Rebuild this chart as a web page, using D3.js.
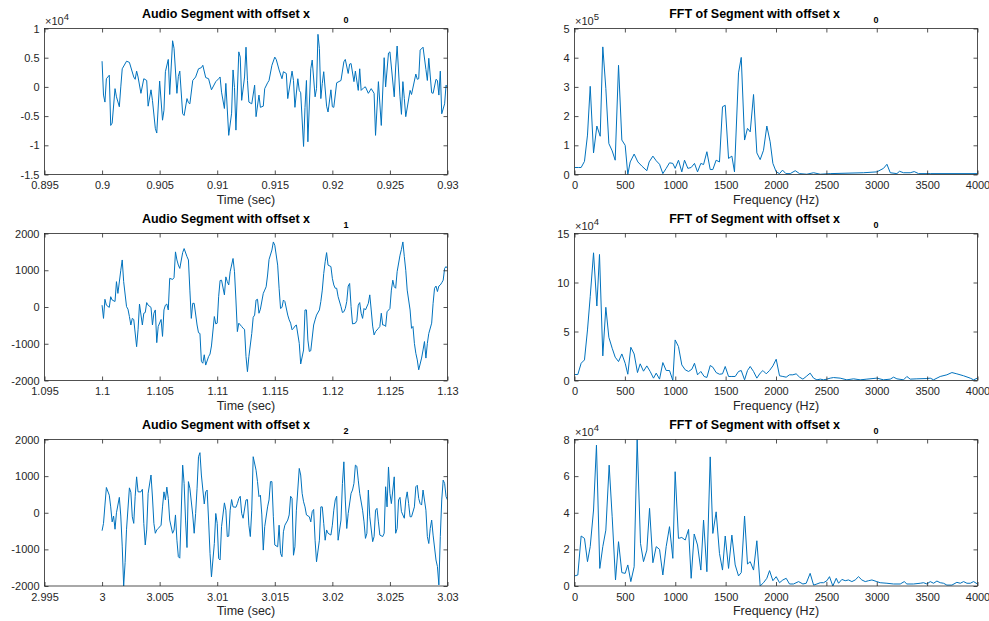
<!DOCTYPE html>
<html>
<head>
<meta charset="utf-8">
<script src="https://cdn.jsdelivr.net/npm/d3@7/dist/d3.min.js"></script>
<style>
  body { margin: 0; background: #fff; }
  svg { display: block; font-family: "Liberation Sans", Arial, Helvetica, sans-serif; }
</style>
</head>
<body>
<svg width="989" height="621"></svg>
<script>
// ---- Data: audio segments, [sample index, amplitude] (fs = 8000 Hz)
const fs = 8000;
const segStart = [0.9, 1.1, 3.0];

const seg0 = [[0,4400],[1,-1400],[2,-2600],[3,1400],[5,2000],[6,-6600],[7,-6200],[9,-300],[10,-1700],[12,-3400],[13,0],[14,3100],[17,4400],[19,4200],[22,1700],[23,1300],[24,2700],[25,1700],[27,-1100],[29,1400],[31,1100],[32,-3300],[34,-500],[35,-2300],[37,-7100],[38,-7900],[40,1000],[42,-5700],[43,-4000],[44,2600],[46,4700],[47,-1300],[49,7900],[50,6600],[52,-1100],[53,1800],[54,2700],[56,-4600],[57,-4900],[59,-2000],[60,-2700],[61,-2900],[63,1100],[65,1700],[67,3100],[69,3300],[70,3700],[72,1600],[74,1400],[76,-500],[79,900],[81,1400],[82,1700],[83,-900],[85,-3700],[86,600],[88,-8300],[90,-4500],[91,2900],[92,-100],[93,-7400],[95,6000],[96,5100],[97,-2300],[99,1700],[100,6800],[101,1100],[102,-2600],[104,-2900],[106,300],[107,-5100],[109,-1400],[110,-3500],[112,-3300],[113,-300],[115,700],[116,1100],[118,3700],[120,5100],[121,4700],[123,2900],[125,1400],[126,2600],[128,2300],[129,-2000],[132,2700],[133,1100],[134,-3500],[136,1400],[137,-600],[138,-1000],[140,-10200],[141,-3500],[142,1100],[143,-9400],[145,3100],[146,4600],[148,-1700],[149,-300],[150,9000],[151,6600],[152,-2000],[153,600],[154,2600],[156,-3300],[157,-4300],[159,-500],[160,-3400],[161,-3500],[163,700],[166,1100],[168,4300],[169,4700],[171,2300],[172,3900],[173,4000],[175,900],[176,2700],[178,-600],[179,3100],[180,-600],[182,-100],[183,0],[185,-1100],[187,-300],[189,-1100],[190,-8300],[192,900],[194,-6600],[196,5000],[197,0],[199,5800],[200,6000],[203,-1700],[204,3400],[205,7000],[207,-1700],[208,-4700],[209,900],[210,-2000],[211,-5100],[214,-600],[215,-1300],[218,2200],[219,1300],[220,1400],[221,6300],[223,6800],[225,3000],[226,1100],[227,4900],[229,-1000],[230,-1100],[232,1300],[233,1100],[234,-1400],[235,2700],[236,-4600],[238,-2900],[239,300],[240,-100]];

const seg1 = [[0,50],[1,-310],[2,210],[3,50],[5,-10],[6,280],[7,190],[9,150],[10,690],[11,370],[13,1000],[14,1280],[15,690],[17,10],[18,-60],[19,-260],[20,-490],[21,-310],[22,-340],[24,-1080],[25,-620],[26,80],[28,-490],[29,-170],[30,-150],[31,120],[32,50],[34,-10],[35,-490],[36,-170],[37,-80],[38,-970],[39,-530],[41,-340],[42,-800],[43,-80],[44,50],[45,80],[46,-80],[47,780],[49,750],[50,800],[51,1500],[52,1280],[53,1140],[54,1050],[56,1480],[57,1590],[59,1370],[60,1280],[61,460],[62,-310],[63,100],[64,100],[66,-490],[67,-700],[68,-720],[69,-1480],[70,-1530],[71,-1300],[72,-1580],[74,-1350],[75,-1280],[76,-1060],[78,-260],[79,-460],[80,-440],[81,280],[82,720],[83,730],[85,330],[86,820],[87,690],[88,600],[89,960],[91,1320],[92,960],[93,190],[94,-670],[95,-440],[97,-530],[98,-580],[99,-610],[100,-1350],[101,-1760],[102,-1350],[104,-720],[105,-280],[106,-220],[107,190],[108,210],[109,-170],[110,-60],[112,370],[113,460],[114,550],[115,870],[116,1290],[118,1550],[119,1770],[120,1680],[122,1140],[123,510],[124,-40],[125,-10],[126,190],[127,150],[129,-220],[130,-350],[131,-440],[132,-620],[133,-580],[134,-520],[135,-490],[137,-990],[138,-1550],[140,-1170],[141,-80],[142,-80],[143,-900],[144,-1210],[145,-1190],[147,-490],[148,-350],[149,-220],[151,-80],[152,150],[153,460],[154,910],[155,1230],[156,1480],[157,1140],[159,1100],[160,780],[161,600],[162,510],[163,510],[164,280],[166,10],[167,-150],[168,-130],[169,-40],[170,150],[171,570],[172,640],[173,10],[174,-460],[176,-440],[177,-370],[178,50],[179,120],[180,-170],[181,-310],[182,-40],[183,-80],[185,100],[186,330],[187,-80],[188,-520],[189,-760],[190,-670],[192,-580],[193,-530],[194,-170],[195,-490],[196,-490],[197,-530],[198,-130],[200,-40],[201,460],[202,730],[203,550],[204,510],[205,960],[207,1410],[208,1570],[209,1770],[210,1370],[211,1000],[212,460],[214,-80],[215,-580],[216,-530],[217,-990],[218,-1260],[219,-1440],[220,-1710],[222,-1390],[223,-1170],[224,-940],[225,-1390],[226,-990],[227,-720],[229,-440],[230,100],[231,510],[232,570],[233,420],[234,570],[235,600],[236,660],[237,730],[238,1050],[239,1100],[240,1050]];

const seg2 = [[0,-490],[1,-290],[2,210],[3,690],[5,480],[6,160],[7,-250],[8,-90],[9,-450],[10,0],[12,420],[13,-90],[14,-910],[15,-2000],[16,-1360],[17,-450],[19,680],[20,560],[21,-110],[22,-290],[23,450],[24,980],[25,570],[27,570],[28,640],[29,-290],[30,-880],[31,-470],[32,530],[34,1030],[35,430],[36,-290],[37,-560],[38,-470],[39,-430],[41,-340],[42,160],[43,570],[44,350],[45,700],[46,390],[47,-200],[49,-560],[50,-470],[51,-60],[52,-750],[53,-1200],[54,-1240],[56,1300],[57,800],[58,-200],[59,-950],[60,850],[61,670],[63,-60],[64,-560],[65,-20],[66,670],[67,1530],[68,1640],[69,1030],[71,240],[72,570],[73,620],[74,-200],[75,-1110],[76,-1750],[78,-840],[79,-20],[80,-290],[81,-1250],[82,-1290],[83,-380],[85,270],[86,70],[87,-650],[88,-640],[89,70],[90,360],[91,160],[93,150],[94,250],[95,390],[96,450],[97,-20],[98,-150],[100,350],[101,360],[102,-340],[103,-650],[104,70],[105,1530],[107,1160],[108,850],[109,440],[110,480],[111,-60],[112,-1020],[113,-380],[115,160],[116,350],[117,850],[118,850],[119,-110],[120,-880],[122,-930],[123,-340],[124,-1110],[125,-1200],[126,-520],[127,-340],[129,-200],[130,-60],[131,450],[132,390],[133,-1160],[134,-930],[135,70],[137,1210],[138,1030],[139,530],[140,300],[141,160],[142,-60],[144,-110],[145,-250],[146,30],[147,90],[148,-750],[149,-1340],[151,-750],[152,160],[153,160],[154,-290],[155,-750],[156,-470],[157,-560],[159,-610],[160,-340],[161,70],[162,350],[163,450],[164,-750],[166,-200],[167,800],[168,1390],[169,350],[170,-430],[171,-20],[173,530],[174,620],[175,800],[176,1300],[177,1270],[178,890],[179,530],[181,70],[182,-250],[183,-700],[184,-560],[185,620],[186,-110],[188,-790],[189,-650],[190,70],[191,120],[192,-250],[193,-610],[195,-650],[196,-560],[197,710],[198,160],[199,1250],[200,530],[201,250],[203,980],[204,-560],[205,-430],[206,350],[207,420],[208,30],[210,-150],[211,350],[212,570],[213,250],[214,-110],[215,-110],[217,160],[218,710],[219,750],[220,390],[221,250],[222,210],[223,620],[225,70],[226,-650],[227,-840],[228,-430],[229,-200],[230,-610],[232,-1290],[233,-1470],[234,-1970],[235,-650],[236,350],[237,890],[238,800],[239,440],[240,350]];

// ---- Data: FFT magnitude, [frequency Hz, magnitude]
const fft0 = [[0,24000],[40,24000],[66,24000],[99,45000],[129,135000],[156,302000],[189,74000],[222,166000],[255,131000],[281,437000],[311,295000],[341,106000],[374,81000],[404,49000],[437,374000],[470,118000],[503,100000],[529,0],[553,43000],[592,70000],[629,43000],[668,29000],[718,13000],[741,43000],[778,63000],[811,47000],[844,35000],[877,3000],[910,21000],[943,40000],[976,38000],[999,21000],[1032,49000],[1065,9000],[1092,49000],[1125,21000],[1158,24000],[1191,38000],[1221,9000],[1254,38000],[1281,34000],[1314,78000],[1347,17000],[1373,17000],[1406,49000],[1439,43000],[1469,232000],[1496,237000],[1529,55000],[1562,63000],[1588,9000],[1628,348000],[1655,401000],[1688,118000],[1717,158000],[1744,146000],[1777,274000],[1810,74000],[1843,51000],[1876,83000],[1909,166000],[1942,112000],[1969,38000],[2002,9000],[2035,3000],[2065,15000],[2098,3000],[2141,3000],[2191,13000],[2234,3000],[2306,1000],[2373,6000],[2439,1000],[2538,3000],[2869,6000],[3001,9000],[3067,21000],[3101,35000],[3134,6000],[3200,3000],[3226,11000],[3266,6000],[3332,6000],[3372,10000],[3415,3000],[3531,3000],[4000,3000]];

const fft1 = [[0,6100],[33,6100],[66,17600],[99,21000],[129,51600],[156,85500],[189,130300],[222,76000],[248,128600],[281,25100],[311,74700],[341,44100],[374,32900],[404,23800],[437,19300],[470,27100],[503,17600],[529,6400],[559,33900],[592,27100],[625,8100],[652,17000],[685,9500],[718,14900],[751,9200],[784,2400],[811,7500],[844,1400],[877,18300],[910,10200],[943,10200],[976,0],[999,41400],[1032,34600],[1065,15900],[1099,10900],[1132,9200],[1165,11500],[1191,17600],[1221,5800],[1254,9200],[1287,4100],[1314,3100],[1347,15300],[1373,13600],[1406,8100],[1439,6400],[1469,6800],[1496,14300],[1529,4100],[1562,4100],[1595,4100],[1628,9200],[1655,10200],[1688,700],[1717,10200],[1744,14300],[1777,9200],[1810,2400],[1843,7500],[1870,10200],[1903,6800],[1936,10200],[1969,14900],[2002,21700],[2035,4800],[2068,4100],[2101,3400],[2134,5800],[2167,5800],[2200,6800],[2234,3400],[2267,1400],[2300,4100],[2339,7500],[2373,2400],[2406,700],[2439,1400],[2472,700],[2505,1400],[2538,2400],[2571,3000],[2637,2400],[2703,700],[2770,1700],[2836,700],[2902,1400],[3001,2400],[3067,700],[3134,1400],[3167,3400],[3200,1700],[3266,700],[3299,4100],[3332,1400],[3398,1700],[3498,2000],[3531,2400],[3564,700],[3630,4100],[3696,5800],[3746,8100],[3795,6800],[3862,4800],[3928,2400],[3961,700],[4000,2400]];

const fft2 = [[0,5500],[33,6000],[66,27300],[99,26000],[129,13300],[156,21500],[189,41500],[218,76900],[251,9600],[281,21500],[311,30500],[344,66000],[374,37800],[407,3300],[437,24200],[470,7300],[503,6900],[529,11500],[559,2400],[592,10500],[622,80000],[655,23300],[685,13300],[718,19600],[745,42400],[778,12700],[811,21500],[844,20000],[877,6000],[910,21500],[943,32400],[976,15100],[999,62400],[1032,26000],[1065,26500],[1099,25100],[1132,30900],[1158,4200],[1188,28400],[1221,22400],[1254,8700],[1281,36000],[1314,7800],[1347,70500],[1373,28700],[1406,40500],[1439,17800],[1469,8700],[1496,27300],[1529,9600],[1562,27800],[1595,11500],[1628,5500],[1655,7300],[1688,38200],[1717,12000],[1744,13300],[1777,8700],[1810,24700],[1843,0],[1876,1800],[1909,4200],[1936,8400],[1969,2900],[2002,5100],[2035,1800],[2068,3300],[2101,4200],[2134,1100],[2174,1100],[2224,2400],[2267,1100],[2300,1500],[2339,6900],[2373,500],[2406,1100],[2439,1800],[2472,1800],[2505,2900],[2531,5100],[2564,0],[2598,4200],[2621,1500],[2654,3600],[2687,2900],[2720,3300],[2753,2400],[2786,3300],[2819,5100],[2852,3300],[2886,2400],[2919,2900],[2952,3300],[3001,2400],[3034,1800],[3101,1500],[3167,1100],[3233,1100],[3273,2400],[3299,1100],[3365,1100],[3431,1500],[3465,1800],[3498,1100],[3531,2400],[3564,1500],[3597,2700],[3630,1800],[3663,1500],[3696,500],[3746,500],[3795,2000],[3829,1500],[3862,2400],[3895,1500],[3928,1500],[3961,2400],[4000,1100]];

// ---- Tick labels
const timeTicks = [
    [0.895, 0.9, 0.905, 0.91, 0.915, 0.92, 0.925, 0.93],
    [1.095, 1.1, 1.105, 1.11, 1.115, 1.12, 1.125, 1.13],
    [2.995, 3, 3.005, 3.01, 3.015, 3.02, 3.025, 3.03]
];
const freqTicks = [0, 500, 1000, 1500, 2000, 2500, 3000, 3500, 4000];
const ampTicks = [
    [-15000, -10000, -5000, 0, 5000, 10000],
    [-2000, -1000, 0, 1000, 2000],
    [-2000, -1000, 0, 1000, 2000]
];
const fftTicks = [
    [0, 100000, 200000, 300000, 400000, 500000],
    [0, 50000, 100000, 150000],
    [0, 20000, 40000, 60000, 80000]
];
const ampExp = [4, 0, 0];
const fftExp = [5, 4, 4];
const subLabels = ['0', '1', '2'];

const svg = d3.select('svg');
const lineColor = '#0072bd';
const axisColor = '#262626';

const plotW = 403;
const cols = [44.5, 574.5];
const rows = [{ top: 28.5, bottom: 174.5 }, { top: 233.5, bottom: 380.5 }, { top: 439.5, bottom: 586 }];

const fmt = (exp) => v => String(+(v / Math.pow(10, exp)).toFixed(4));

const drawPanel = (id, left, row, cfg) => {
    const g = svg.append('g').attr('id', id);
    const x = d3.scaleLinear().domain(cfg.xDomain).range([left, left + plotW]);
    const y = d3.scaleLinear().domain(cfg.yDomain).range([row.bottom, row.top]);

    g.append('clipPath').attr('id', 'clip-' + id)
        .append('rect')
        .attr('x', left).attr('y', row.top)
        .attr('width', plotW).attr('height', row.bottom - row.top);

    g.append('path')
        .datum(cfg.data)
        .attr('clip-path', `url(#clip-${id})`)
        .attr('fill', 'none')
        .attr('stroke', lineColor)
        .attr('stroke-width', 1)
        .attr('stroke-linejoin', 'round')
        .attr('d', d3.line().x(d => x(cfg.xAcc(d))).y(d => y(d[1])));

    const styleAxis = sel => {
        sel.select('.domain').remove();
        sel.selectAll('.tick line').attr('stroke', axisColor).attr('stroke-width', 0.8);
        sel.selectAll('.tick text').attr('fill', axisColor).attr('font-size', 11)
            .attr('font-family', '"Liberation Sans", Arial, sans-serif');
    };

    g.append('g').attr('transform', `translate(0,${row.bottom})`)
        .call(d3.axisBottom(x).tickValues(cfg.xTicks).tickFormat(v => String(v))
            .tickSizeInner(-4).tickSizeOuter(0).tickPadding(7))
        .call(styleAxis);
    g.append('g').attr('transform', `translate(0,${row.top})`)
        .call(d3.axisTop(x).tickValues(cfg.xTicks).tickFormat('')
            .tickSizeInner(-4).tickSizeOuter(0))
        .call(styleAxis);
    g.append('g').attr('transform', `translate(${left},0)`)
        .call(d3.axisLeft(y).tickValues(cfg.yTicks).tickFormat(fmt(cfg.exp))
            .tickSizeInner(-4).tickSizeOuter(0).tickPadding(5))
        .call(styleAxis);
    g.append('g').attr('transform', `translate(${left + plotW},0)`)
        .call(d3.axisRight(y).tickValues(cfg.yTicks).tickFormat('')
            .tickSizeInner(-4).tickSizeOuter(0))
        .call(styleAxis);

    g.append('rect')
        .attr('x', left).attr('y', row.top)
        .attr('width', plotW).attr('height', row.bottom - row.top)
        .attr('fill', 'none').attr('stroke', axisColor).attr('stroke-width', 0.8);

    // exponent label
    if (cfg.exp > 0) {
        const t = g.append('text')
            .attr('x', left + 0.5).attr('y', row.top - 3.5)
            .attr('fill', axisColor).attr('font-size', 11);
        t.append('tspan').text('\u00d710');
        t.append('tspan').attr('dy', -5).attr('font-size', 9.5).text(cfg.exp);
    }

    // title
    g.append('text')
        .attr('x', left + 265.5).attr('y', row.top - 10.5)
        .attr('text-anchor', 'end')
        .attr('font-weight', 'bold').attr('font-size', 12.5).attr('fill', '#000')
        .text(cfg.title);
    g.append('text')
        .attr('x', left + 301.5).attr('y', row.top - 5.5)
        .attr('text-anchor', 'middle')
        .attr('font-weight', 'bold').attr('font-size', 9).attr('fill', '#000')
        .text(cfg.sub);

    // x label
    g.append('text')
        .attr('x', left + plotW / 2).attr('y', row.bottom + 29)
        .attr('text-anchor', 'middle')
        .attr('font-size', 12.5).attr('fill', axisColor)
        .text(cfg.xLabel);
};

const segs = [seg0, seg1, seg2];
const ffts = [fft0, fft1, fft2];

segs.forEach((seg, i) => {
    const t0 = segStart[i];
    drawPanel('seg' + i, cols[0], rows[i], {
        data: seg,
        xAcc: d => t0 + d[0] / fs,
        xDomain: [timeTicks[i][0], timeTicks[i][timeTicks[i].length - 1]],
        xTicks: timeTicks[i],
        yDomain: [ampTicks[i][0], ampTicks[i][ampTicks[i].length - 1]],
        yTicks: ampTicks[i],
        exp: ampExp[i],
        title: 'Audio Segment with offset x',
        sub: subLabels[i],
        xLabel: 'Time (sec)'
    });
});

ffts.forEach((f, i) => {
    drawPanel('fft' + i, cols[1], rows[i], {
        data: f,
        xAcc: d => d[0],
        xDomain: [0, 4000],
        xTicks: freqTicks,
        yDomain: [0, fftTicks[i][fftTicks[i].length - 1]],
        yTicks: fftTicks[i],
        exp: fftExp[i],
        title: 'FFT of Segment with offset x',
        sub: '0',
        xLabel: 'Frequency (Hz)'
    });
});
</script>
</body>
</html>
